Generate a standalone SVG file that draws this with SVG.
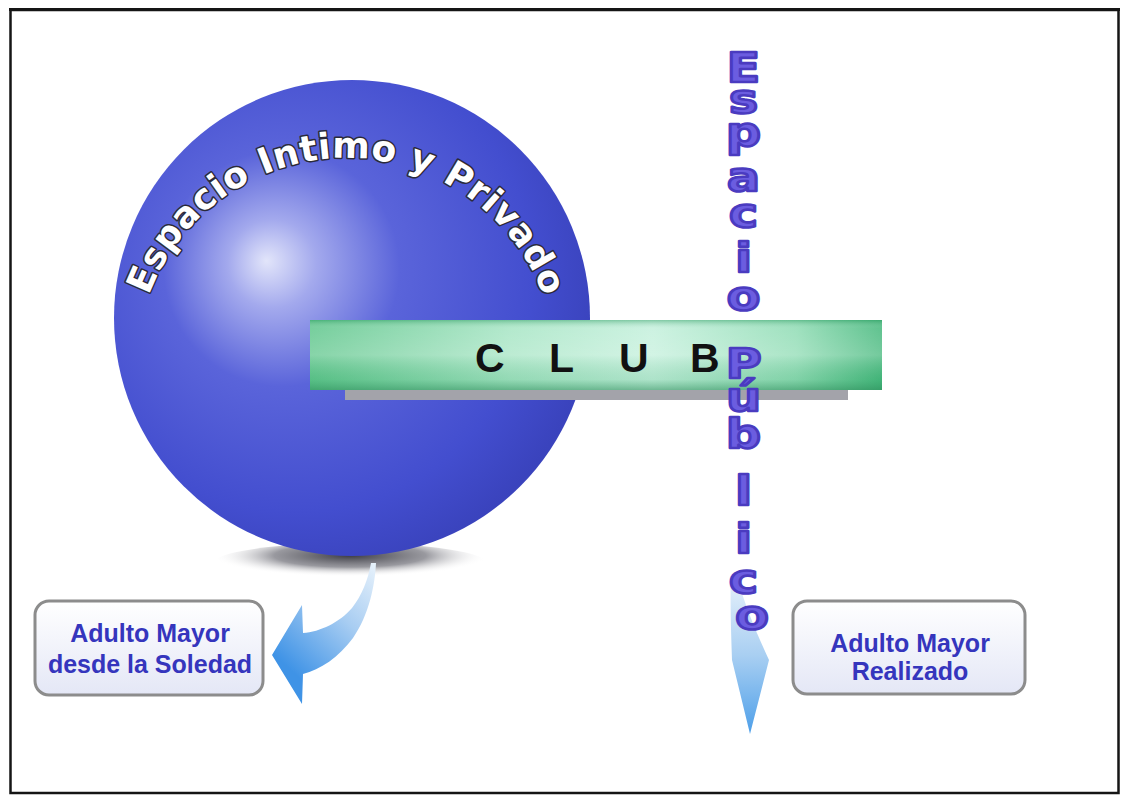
<svg xmlns="http://www.w3.org/2000/svg" width="1127" height="796" viewBox="0 0 1127 796">
<defs>
<radialGradient id="sph" cx="0.4" cy="0.42" r="0.62" fx="0.32" fy="0.38">
<stop offset="0" stop-color="#e2e5fa"/>
<stop offset="0.15" stop-color="#a3a9ed"/>
<stop offset="0.4" stop-color="#5a64da"/>
<stop offset="0.8" stop-color="#434ecf"/>
<stop offset="1" stop-color="#3a43bd"/>
</radialGradient>
<radialGradient id="shd" cx="0.5" cy="0.3" r="0.5">
<stop offset="0" stop-color="#3c3c44"/>
<stop offset="0.55" stop-color="#77777f" stop-opacity="0.75"/>
<stop offset="1" stop-color="#ffffff" stop-opacity="0"/>
</radialGradient>
<linearGradient id="barH" x1="0" y1="0" x2="1" y2="0">
<stop offset="0" stop-color="#5fc68c"/>
<stop offset="0.35" stop-color="#a6e5c4"/>
<stop offset="0.6" stop-color="#c4f0dc"/>
<stop offset="0.85" stop-color="#8fdcb4"/>
<stop offset="1" stop-color="#45b87c"/>
</linearGradient>
<linearGradient id="barV" x1="0" y1="0" x2="0" y2="1">
<stop offset="0" stop-color="#2f9a62" stop-opacity="0.45"/>
<stop offset="0.12" stop-color="#ffffff" stop-opacity="0.15"/>
<stop offset="0.5" stop-color="#ffffff" stop-opacity="0.25"/>
<stop offset="0.85" stop-color="#2f9a62" stop-opacity="0.15"/>
<stop offset="1" stop-color="#2a8a58" stop-opacity="0.55"/>
</linearGradient>
<linearGradient id="box" x1="0" y1="0" x2="0" y2="1">
<stop offset="0" stop-color="#ffffff"/>
<stop offset="1" stop-color="#e4e7f6"/>
</linearGradient>
<linearGradient id="arrL" x1="372" y1="562" x2="280" y2="660" gradientUnits="userSpaceOnUse">
<stop offset="0" stop-color="#e6f1fb"/>
<stop offset="0.45" stop-color="#a8cdf2"/>
<stop offset="1" stop-color="#3f93e6"/>
</linearGradient>
<linearGradient id="arrR" x1="0" y1="0" x2="0" y2="1">
<stop offset="0" stop-color="#e8f2fb"/>
<stop offset="0.5" stop-color="#a9cff2"/>
<stop offset="1" stop-color="#4d9fe9"/>
</linearGradient>
<path id="arc" d="M 136,368 A 210,210 0 0 1 556,368"/>
<style>
.lbl{font-family:"Liberation Sans",Arial,sans-serif;font-weight:bold;font-size:25px;fill:#3535bd;text-anchor:middle}
.vert{font-family:"DejaVu Sans","Liberation Sans",sans-serif;font-weight:bold;font-size:40px;fill:#6b5de0;stroke:#4a3bc0;stroke-width:2.6;stroke-linejoin:round;text-anchor:middle}
.boxr{fill:url(#box);stroke:#8c8c8c;stroke-width:3}
</style>
</defs>
<rect x="0" y="0" width="1127" height="796" fill="#ffffff"/>
<g id="frame">
<rect x="10.5" y="10" width="1108" height="783" fill="none" stroke="#151515" stroke-width="2.5"/>
<line x1="9" y1="9.5" x2="1120" y2="9.5" stroke="#151515" stroke-width="3"/>
</g>
<g id="sphere">
<ellipse cx="350" cy="564" rx="138" ry="21" fill="url(#shd)"/>
<circle cx="352" cy="318" r="238" fill="url(#sph)"/>
<text font-family="'DejaVu Sans','Liberation Sans',sans-serif" font-weight="bold" font-size="36" fill="#ffffff" stroke="#2a2a3a" stroke-width="3" stroke-linejoin="round" paint-order="stroke" letter-spacing="0.5"><textPath href="#arc" startOffset="74">Espacio Intimo y Privado</textPath></text>
</g>
<g id="club">
<rect x="345" y="386" width="503" height="14" fill="#a3a3aa"/>
<rect x="310" y="320" width="572" height="70" fill="url(#barH)"/>
<rect x="310" y="320" width="572" height="70" fill="url(#barV)"/>
<text x="475 507 549 577 619 651 690" y="372" font-family="'Liberation Sans',Arial,sans-serif" font-weight="bold" font-size="41" fill="#111111" xml:space="preserve">C L U B</text>
</g>
<g id="connectors">
<path d="M 272,655 L 302,605 L 303,633 C 320,632 340,622 352,608 C 362,595 368,580 371,563 L 376,563 C 375,585 369,615 353,638 C 339,657 320,670 303,674 L 302,704 Z" fill="url(#arrL)"/>
<path d="M 731,576 L 737,576 C 745,608 760,640 769,660 L 750,734 L 732,660 C 731,630 730,600 731,576 Z" fill="url(#arrR)"/>
</g>
<g id="espacio-publico">
<text class="vert" transform="translate(752,0) scale(1.22,1)">
<tspan x="0" y="82">E</tspan>
<tspan x="0" y="113">s</tspan>
<tspan x="0" y="146">p</tspan>
<tspan x="0" y="191">a</tspan>
<tspan x="0" y="227">c</tspan>
<tspan x="0" y="272">i</tspan>
<tspan x="0" y="310">o</tspan>
<tspan x="0" y="378">P</tspan>
<tspan x="0" y="411">ú</tspan>
<tspan x="0" y="448">b</tspan>
<tspan x="0" y="505">l</tspan>
<tspan x="0" y="553">i</tspan>
<tspan x="0" y="593">c</tspan>
<tspan x="0" y="629">o</tspan>
</text>
</g>
<g id="box-soledad">
<rect class="boxr" x="35" y="601" width="228" height="94" rx="14"/>
<text class="lbl" x="150" y="642">Adulto Mayor</text>
<text class="lbl" x="150" y="673">desde la Soledad</text>
</g>
<g id="box-realizado">
<rect class="boxr" x="793" y="601" width="232" height="93" rx="14"/>
<text class="lbl" x="910" y="652">Adulto Mayor</text>
<text class="lbl" x="910" y="680">Realizado</text>
</g>
</svg>
